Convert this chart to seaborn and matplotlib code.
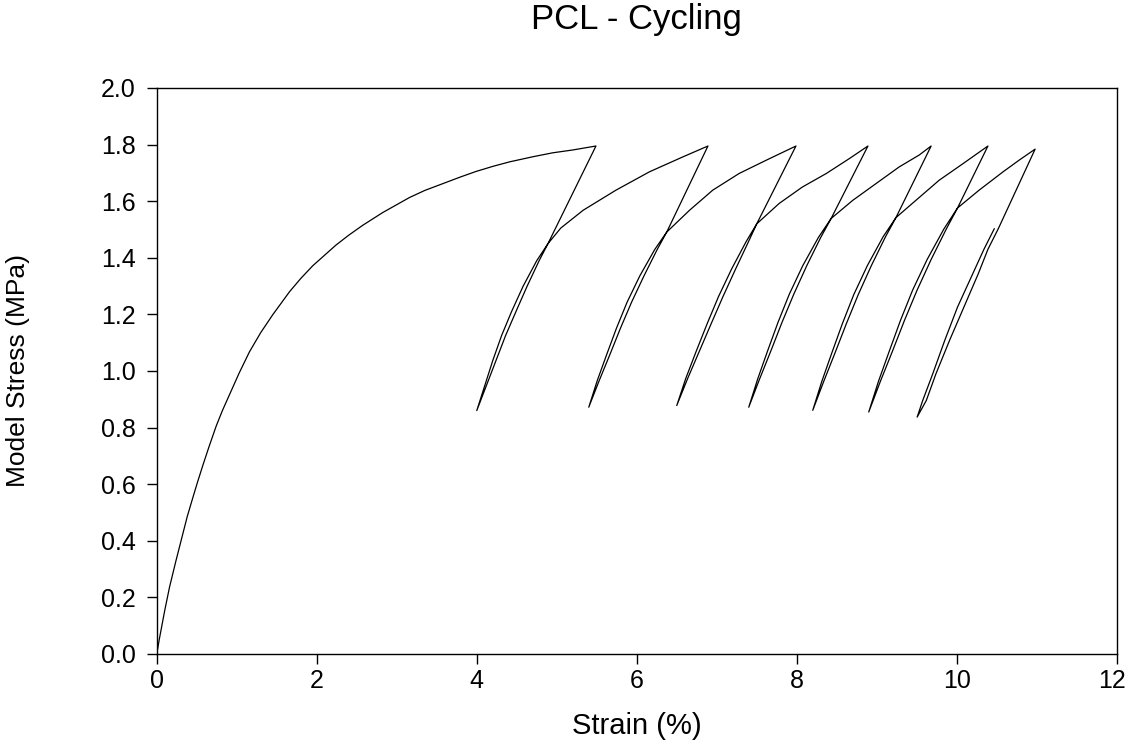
import numpy as np
import pandas as pd
import matplotlib
matplotlib.use("Agg")
import matplotlib.pyplot as plt
import matplotlib.transforms as mtransforms
import seaborn as sns

# values (strain in %, stress in MPa)
loading_x = [0.0, 0.03, 0.10, 0.159, 0.24, 0.325, 0.38, 0.45, 0.51, 0.575, 0.65, 0.742,
             0.82, 0.909, 1.03, 1.159, 1.30, 1.45, 1.659, 1.80, 1.95, 2.10, 2.24, 2.40,
             2.575, 2.825, 3.00, 3.159, 3.35, 3.575, 3.80, 3.99, 4.20, 4.41, 4.70, 4.95,
             5.20, 5.49]
loading_y = [0.0, 0.05, 0.155, 0.236, 0.33, 0.424, 0.485, 0.552, 0.608, 0.666, 0.73, 0.805,
             0.86, 0.916, 0.993, 1.068, 1.136, 1.199, 1.28, 1.327, 1.372, 1.41, 1.445, 1.48,
             1.515, 1.56, 1.588, 1.613, 1.638, 1.662, 1.686, 1.705, 1.723, 1.739, 1.757, 1.771,
             1.781, 1.795]

# each cycle: unloading from the previous peak down to the valley, then reloading
cycle1_x = [5.49, 4.89, 4.78, 4.63, 4.49, 4.36, 4.24, 4.12, 4.00,
            4.10, 4.20, 4.31, 4.435, 4.58, 4.75, 4.89, 5.05, 5.33, 5.74, 6.16, 6.58, 6.89]
cycle1_y = [1.795, 1.45, 1.39, 1.30, 1.21, 1.125, 1.037, 0.948, 0.86,
            0.948, 1.037, 1.125, 1.21, 1.30, 1.39, 1.45, 1.505, 1.568, 1.639, 1.704, 1.757, 1.795]

cycle2_x = [6.89, 6.375, 6.255, 6.09, 5.935, 5.796, 5.664, 5.529, 5.40,
            5.505, 5.624, 5.746, 5.879, 6.038, 6.224, 6.375, 6.66, 6.95, 7.28, 7.62, 7.99]
cycle2_y = [1.795, 1.491, 1.429, 1.336, 1.243, 1.151, 1.058, 0.965, 0.872,
            0.965, 1.058, 1.151, 1.243, 1.336, 1.429, 1.491, 1.568, 1.639, 1.698, 1.745, 1.795]

cycle3_x = [7.99, 7.50, 7.395, 7.235, 7.078, 6.93, 6.785, 6.637, 6.50,
            6.613, 6.745, 6.88, 7.022, 7.185, 7.365, 7.50, 7.78, 8.07, 8.37, 8.66, 8.89]
cycle3_y = [1.795, 1.52, 1.456, 1.360, 1.263, 1.167, 1.071, 0.974, 0.878,
            0.974, 1.071, 1.167, 1.263, 1.360, 1.456, 1.52, 1.592, 1.65, 1.698, 1.751, 1.795]

cycle4_x = [8.89, 8.43, 8.30, 8.125, 7.964, 7.816, 7.678, 7.536, 7.40,
            7.512, 7.637, 7.766, 7.908, 8.075, 8.271, 8.43, 8.70, 8.99, 9.28, 9.53, 9.68]
cycle4_y = [1.795, 1.539, 1.472, 1.372, 1.272, 1.172, 1.072, 0.972, 0.872,
            0.972, 1.072, 1.172, 1.272, 1.372, 1.472, 1.539, 1.603, 1.662, 1.721, 1.763, 1.795]

cycle5_x = [9.68, 9.24, 9.109, 8.932, 8.769, 8.62, 8.48, 8.337, 8.20,
            8.313, 8.44, 8.57, 8.713, 8.882, 9.079, 9.24, 9.49, 9.78, 10.08, 10.39]
cycle5_y = [1.795, 1.542, 1.474, 1.372, 1.270, 1.167, 1.065, 0.963, 0.861,
            0.963, 1.065, 1.167, 1.270, 1.372, 1.474, 1.542, 1.603, 1.674, 1.733, 1.795]

cycle6_x = [10.39, 10.01, 9.87, 9.68, 9.505, 9.347, 9.198, 9.045, 8.90,
            9.021, 9.158, 9.297, 9.449, 9.63, 9.84, 10.01, 10.28, 10.58, 10.78, 10.98]
cycle6_y = [1.795, 1.576, 1.502, 1.394, 1.286, 1.179, 1.071, 0.963, 0.855,
            0.963, 1.071, 1.179, 1.286, 1.394, 1.502, 1.576, 1.639, 1.704, 1.745, 1.784]

cycle7_x = [10.98, 10.52, 10.39, 10.27, 10.09, 9.91, 9.74, 9.62, 9.505,
            9.575, 9.70, 9.85, 10.01, 10.20, 10.34, 10.47]
cycle7_y = [1.784, 1.503, 1.43, 1.344, 1.226, 1.108, 0.99, 0.896, 0.837,
            0.896, 0.99, 1.108, 1.226, 1.344, 1.43, 1.503]

x_ticks = [0, 2, 4, 6, 8, 10, 12]
y_ticks = [0.0, 0.2, 0.4, 0.6, 0.8, 1.0, 1.2, 1.4, 1.6, 1.8, 2.0]

strain = loading_x + cycle1_x + cycle2_x + cycle3_x + cycle4_x + cycle5_x + cycle6_x + cycle7_x
stress = loading_y + cycle1_y + cycle2_y + cycle3_y + cycle4_y + cycle5_y + cycle6_y + cycle7_y
df = pd.DataFrame({"Strain": strain, "Stress": stress})

sns.set_theme(style="ticks")
plt.rcParams["font.family"] = ["Liberation Sans", "DejaVu Sans"]

fig = plt.figure(figsize=(11.28, 7.47), dpi=100)
ax = fig.add_axes([0.139, 0.1245, 0.851, 0.7577])

sns.lineplot(data=df, x="Strain", y="Stress", sort=False, estimator=None,
             color="black", linewidth=0.9, ax=ax)

ax.set_xlim(0, 12)
ax.set_ylim(0, 2.0)
ax.set_xticks(x_ticks)
xlabels = ax.set_xticklabels([str(t) for t in x_ticks])
ax.set_yticks(y_ticks)
ax.set_yticklabels([f"{t:.1f}" for t in y_ticks])

for side in ["top", "right", "left", "bottom"]:
    ax.spines[side].set_visible(True)
    ax.spines[side].set_color("black")
    ax.spines[side].set_linewidth(1.0)

ax.tick_params(axis="both", direction="out", length=7, width=1.0, colors="black",
               labelsize=18, top=False, right=False)
ax.tick_params(axis="x", pad=4)
ax.tick_params(axis="y", pad=8)

# last x label sits at the figure edge, nudge it inwards a little
last = xlabels[-1]
last.set_transform(last.get_transform() +
                   mtransforms.ScaledTranslation(-5 / 100, 0, fig.dpi_scale_trans))

ax.set_xlabel("Strain (%)", fontsize=21, color="black")
ax.set_ylabel("Model Stress (MPa)", fontsize=19, color="black")
ax.xaxis.set_label_coords(0.5, -0.103)
ax.yaxis.set_label_coords(-0.132, 0.5)

ax.set_title("PCL - Cycling", fontsize=25, color="black", y=1.104, pad=0)

plt.savefig("out.png", dpi=100)
